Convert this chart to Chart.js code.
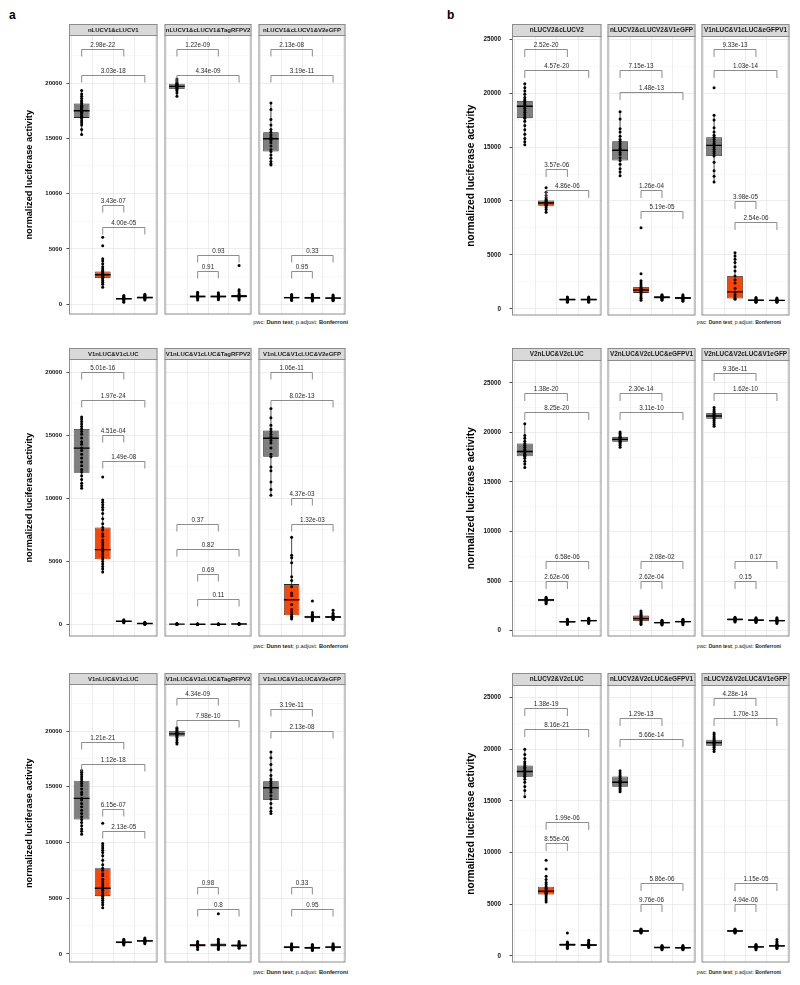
<!DOCTYPE html>
<html><head><meta charset="utf-8">
<script src="https://cdn.jsdelivr.net/npm/chart.js@4.4.1/dist/chart.umd.min.js"></script>
<style>
html,body{margin:0;padding:0;background:#fff;}
body{width:800px;height:985px;position:relative;overflow:hidden;font-family:"Liberation Sans",Arial,sans-serif;}
canvas{position:absolute;}
.lbl{position:absolute;font-weight:bold;font-size:12px;line-height:12px;color:#000;}
.cap{position:absolute;white-space:nowrap;color:#222;text-align:right;}
</style></head><body>
<div class="lbl" style="left:9px;top:9px;">a</div>
<div class="lbl" style="left:447px;top:9px;">b</div>
<script>
// ---------------- DATA ----------------
const groupIds = [1, 2, 3, 4];
const yTicksA = [0, 5000, 10000, 15000, 20000];
const yTicksB = [0, 5000, 10000, 15000, 20000, 25000];
const yTitle = 'normalized luciferase activity';
const captionParts = ['pwc: ', 'Dunn test', '; p.adjust: ', 'Bonferroni'];

// stats per box: [lower whisker, Q1, median, Q3, upper whisker]
// brackets: [group from, group to, y, p label]

// ----- a, row 1 -----
const a1Facets = ['nLUCV1&cLUCV1', 'nLUCV1&cLUCV1&TagRFPV2', 'nLUCV1&cLUCV1&V2eGFP'];
const a1YLim = [-926, 24343];
const a1Stats = [
  [[15350,16850,17500,18140,19330],[1530,2370,2670,2970,3660],[180,420,500,570,800],[380,530,610,680,900]],
  [[18800,19460,19700,19940,20360],[380,620,700,790,1080],[400,620,700,800,1050],[380,620,720,830,1150]],
  [[12590,13800,14960,15560,18200],[350,520,600,680,880],[300,500,590,680,900],[320,470,550,630,830]]
];
const a1Points = [
  [[19330,19000,18800,18600,18400,18300,18150,18000,17900,17800,17700,17600,17550,17450,17350,17250,17100,17000,16900,16800,16600,16400,16200,15800,15350],
   [6060,5280,4110,3900,3660,3400,3200,3050,2950,2850,2750,2700,2650,2600,2500,2450,2400,2300,2150,2000,1800,1530],
   [800,700,640,580,540,500,470,430,380,300,180],
   [900,820,740,690,650,610,580,540,480,380]],
  [[20360,20200,20050,19950,19880,19800,19750,19700,19650,19580,19500,19420,19300,19100,18800],
   [1080,950,860,790,740,700,660,620,540,380],
   [1050,920,840,780,720,690,650,600,520,400],
   [3510,1320,1150,950,850,780,720,670,610,500,380]],
  [[18200,17600,16700,16200,15800,15550,15300,15100,14950,14800,14600,14300,14000,13800,13500,13200,12900,12700,12590],
   [880,780,700,650,610,580,540,480,400,350],
   [900,800,700,650,600,560,520,450,380,300],
   [830,740,660,600,560,520,480,420,360,320]]
];
const a1Brackets = [
  [[1,3,23058,'2.98e-22'],[1,4,20746,'3.03e-18'],[2,3,8966,'3.43e-07'],[2,4,6987,'4.00e-05']],
  [[1,3,23058,'1.22e-09'],[1,4,20746,'4.34e-09'],[2,4,4496,'0.93'],[2,3,2968,'0.91']],
  [[1,3,23058,'2.13e-08'],[1,4,20746,'3.19e-11'],[2,4,4496,'0.33'],[2,3,2968,'0.95']]
];

// ----- a, row 2 -----
const a2Facets = ['V1nLUC&V1cLUC', 'V1nLUC&V1cLUC&TagRFPV2', 'V1nLUC&V1cLUC&V2eGFP'];
const a2YLim = [-946, 21057];
const a2Stats = [
  [[10800,12040,13990,15510,16460],[4160,5180,5940,7700,9880],[150,220,260,300,380],[20,60,80,110,180]],
  [[0,20,35,50,80],[0,15,30,45,70],[0,10,25,40,60],[10,30,45,60,90]],
  [[10250,13300,14770,15380,17140],[450,730,1970,3210,6920],[300,500,600,700,950],[400,520,600,680,1130]]
];
const a2Points = [
  [[16460,16300,16100,15900,15700,15500,15300,15100,14800,14500,14300,14000,13800,13500,13200,12900,12600,12300,12100,11800,11500,11200,11000,10800],
   [11700,9880,9700,9500,9300,9100,8800,8400,8000,7700,7500,7200,7000,6700,6500,6300,6100,5940,5800,5600,5400,5200,5000,4800,4600,4400,4160],
   [380,330,300,270,250,220,180,150],
   [180,140,110,90,70,50,30,20]],
  [[80,60,45,35,25,10,0],
   [70,50,35,25,15,5],
   [60,45,30,20,10,0],
   [90,70,50,40,30,10]],
  [[17140,16400,15800,15500,15300,15100,14900,14770,14600,14400,14000,13500,13300,12500,12200,11300,10700,10250],
   [6920,5500,5300,4900,3800,3500,3000,2500,2300,1600,1200,1000,800,650,550,450],
   [1870,950,820,720,650,600,550,480,400,300],
   [1130,900,760,680,630,590,550,500,450,400]]
];
const a2Brackets = [
  [[1,3,20008,'5.01e-16'],[1,4,17823,'1.97e-24'],[2,3,15063,'4.51e-04'],[2,4,12957,'1.49e-08']],
  [[1,3,7965,'0.37'],[1,4,5970,'0.82'],[2,3,4022,'0.69'],[2,4,2027,'0.11']],
  [[1,3,20008,'1.06e-11'],[1,4,17823,'8.02e-13'],[2,3,10016,'4.37e-03'],[2,4,7965,'1.32e-03']]
];

// ----- a, row 3 -----
const a3Facets = ['V1nLUC&V1cLUC', 'V1nLUC&V1cLUC&TagRFPV2', 'V1nLUC&V1cLUC&V2eGFP'];
const a3YLim = [-777, 24223];
const a3Stats = [
  [[10740,12050,13960,15500,16460],[4130,5180,5890,7680,9900],[800,960,1040,1110,1300],[900,1080,1160,1240,1420]],
  [[18840,19520,19750,20000,20300],[400,650,770,880,1100],[400,650,800,920,1300],[500,650,750,840,1100]],
  [[12590,13800,14910,15500,18130],[350,500,590,680,900],[300,460,550,640,850],[350,510,600,690,900]]
];
const a3Points = [
  [[16460,16300,16100,15900,15700,15500,15300,15100,14800,14500,14300,13960,13800,13500,13200,12900,12600,12300,12050,11800,11500,11200,11000,10740],
   [11720,9900,9700,9500,9300,9100,8800,8400,8000,7680,7500,7200,7000,6700,6500,6300,6100,5890,5700,5500,5300,5180,5000,4800,4600,4400,4130],
   [1300,1220,1150,1100,1060,1030,990,950,880,800],
   [1420,1340,1270,1220,1180,1150,1110,1060,990,900]],
  [[20300,20200,20100,20000,19900,19820,19750,19680,19600,19520,19400,19200,19000,18840],
   [1100,1000,920,860,800,760,720,660,560,400],
   [3600,1300,1150,1000,900,830,780,700,620,500,400],
   [1100,1000,900,830,780,740,700,650,580,500]],
  [[18130,17600,17000,16500,16000,15700,15500,15300,15100,14910,14700,14500,14200,13900,13500,13100,12800,12590],
   [900,800,720,660,610,570,530,470,400,350],
   [850,760,680,620,570,530,490,430,360,300],
   [900,800,720,660,620,580,540,480,410,350]]
];
const a3Brackets = [
  [[1,3,19018,'1.21e-21'],[1,4,17054,'1.12e-18'],[2,3,13036,'6.15e-07'],[2,4,11009,'2.13e-05']],
  [[1,3,23000,'4.34e-09'],[1,4,20982,'7.98e-10'],[2,3,5982,'0.98'],[2,4,3982,'0.8']],
  [[1,3,21991,'3.19e-11'],[1,4,19964,'2.13e-08'],[2,3,5982,'0.33'],[2,4,3982,'0.95']]
];

// ----- b, row 1 -----
const b1Facets = ['nLUCV2&cLUCV2', 'nLUCV2&cLUCV2&V1eGFP', 'V1nLUC&V1cLUC&eGFPV1'];
const b1YLim = [-618, 25300];
const b1Stats = [
  [[15220,17680,18780,19280,20880],[8950,9560,9810,10050,10800],[600,780,860,940,1100],[600,780,860,940,1100]],
  [[12330,13750,14700,15550,18270],[790,1480,1750,2030,2600],[800,960,1070,1160,1300],[700,900,1000,1090,1300]],
  [[11770,14170,15160,15900,17950],[900,950,1570,3040,5190],[600,720,790,860,1050],[600,710,780,850,1000]]
];
const b1Points = [
  [[20880,20500,20200,19900,19600,19400,19280,19100,18950,18780,18600,18400,18200,18000,17800,17680,17400,17000,16600,16200,15800,15500,15220],
   [11220,10800,10500,10300,10150,10050,9950,9870,9810,9750,9680,9600,9560,9400,9200,8950],
   [1100,1020,960,910,870,840,800,750,680,600],
   [1100,1030,970,920,880,850,810,760,690,600]],
  [[18270,17600,16700,16400,16000,15700,15550,15300,15100,14900,14700,14500,14300,14000,13750,13400,13000,12700,12330],
   [7530,3260,2600,2400,2200,2030,1900,1800,1750,1650,1550,1480,1300,1100,950,790],
   [1300,1230,1170,1120,1080,1040,1000,950,880,800],
   [1300,1200,1120,1060,1020,980,940,880,800,700]],
  [[20510,17950,17500,16800,16400,16100,15900,15700,15500,15300,15160,15000,14800,14600,14400,14170,13600,12800,12300,11770],
   [5190,4900,4600,4300,3900,3500,3040,2700,2400,1900,1570,1300,1100,950,900],
   [1050,960,890,840,800,770,730,690,640,600],
   [1000,930,870,820,790,760,720,680,640,600]]
];
const b1Brackets = [
  [[1,3,24077,'2.52e-20'],[1,4,22140,'4.57e-20'],[2,3,13007,'3.57e-06'],[2,4,11033,'4.86e-06']],
  [[1,3,22140,'7.15e-13'],[1,4,20074,'1.48e-13'],[2,3,11005,'1.26e-04'],[2,4,9041,'5.19e-05']],
  [[1,3,24077,'9.33e-13'],[1,4,22140,'1.03e-14'],[2,3,10018,'3.98e-05'],[2,4,8026,'2.54e-06']]
];

// ----- b, row 2 -----
const b2Facets = ['V2nLUC&V2cLUC', 'V2nLUC&V2cLUC&eGFPV1', 'V2nLUC&V2cLUC&V1eGFP'];
const b2YLim = [-602, 27310];
const b2Stats = [
  [[16470,17600,18070,18880,20880],[2700,2950,3080,3180,3350],[600,800,880,960,1150],[700,920,1000,1080,1250]],
  [[18500,19050,19300,19550,20050],[600,970,1200,1510,1980],[550,720,800,880,1050],[580,800,900,980,1150]],
  [[20610,21390,21650,21960,22520],[850,1020,1130,1220,1350],[800,960,1050,1130,1300],[700,900,1000,1080,1300]]
];
const b2Points = [
  [[20880,19700,19400,19100,18880,18700,18500,18300,18150,18070,17950,17800,17700,17600,17400,17100,16800,16470],
   [3350,3250,3180,3120,3080,3030,2980,2900,2800,2700],
   [1150,1060,990,940,890,860,820,770,700,600],
   [1250,1170,1110,1060,1020,990,950,900,820,700]],
  [[20050,19900,19750,19600,19500,19400,19300,19200,19100,19000,18850,18700,18500],
   [1980,1800,1650,1510,1400,1300,1200,1100,970,850,700,600],
   [1050,970,910,860,820,790,750,700,640,550],
   [1150,1070,1000,950,910,880,840,780,700,580]],
  [[22520,22300,22100,21960,21850,21750,21650,21550,21450,21390,21200,21000,20800,20610],
   [1350,1270,1210,1160,1130,1100,1060,1010,940,850],
   [1300,1220,1160,1110,1070,1040,1000,950,880,800],
   [1300,1200,1120,1060,1020,990,950,900,820,700]]
];
const b2Brackets = [
  [[1,3,24026,'1.38e-20'],[1,4,22018,'8.25e-20'],[2,4,7028,'6.58e-06'],[2,3,5050,'2.62e-06']],
  [[1,3,24026,'2.30e-14'],[1,4,22018,'3.11e-10'],[2,4,7028,'2.08e-02'],[2,3,5050,'2.62e-04']],
  [[1,3,26034,'9.36e-11'],[1,4,24026,'1.62e-10'],[2,4,7028,'0.17'],[2,3,5050,'0.15']]
];

// ----- b, row 3 -----
const b3Facets = ['nLUCV2&V2cLUC', 'nLUCV2&V2cLUC&eGFPV1', 'nLUCV2&V2cLUC&V1eGFP'];
const b3YLim = [-645, 26220];
const b3Stats = [
  [[15410,17330,17850,18420,19990],[5200,5930,6260,6700,7700],[700,950,1090,1200,1350],[800,960,1050,1150,1350]],
  [[15890,16370,16810,17360,17910],[2200,2330,2410,2480,2600],[600,730,800,870,1000],[600,710,780,850,1000]],
  [[19770,20350,20640,20930,21570],[2200,2330,2410,2480,2600],[600,780,870,950,1100],[700,870,960,1050,1400]]
];
const b3Points = [
  [[19990,19500,19100,18800,18600,18420,18250,18100,17950,17850,17700,17550,17400,17330,17100,16800,16400,16000,15410],
   [9250,8410,7700,7400,7100,6900,6700,6550,6400,6260,6150,6050,5930,5800,5600,5400,5200],
   [2220,1350,1270,1200,1140,1090,1040,980,900,800,700],
   [1500,1350,1250,1170,1110,1060,1020,970,900,800]],
  [[17910,17700,17500,17360,17200,17000,16900,16810,16700,16550,16370,16200,16050,15890],
   [2600,2540,2490,2450,2420,2390,2350,2300,2250,2200],
   [1000,930,880,840,810,780,750,700,650,600],
   [1000,920,860,820,790,760,730,690,640,600]],
  [[21570,21400,21200,21050,20930,20800,20700,20640,20550,20450,20350,20200,20000,19770],
   [2600,2540,2490,2450,2420,2390,2350,2300,2250,2200],
   [1100,1030,970,920,880,850,810,760,700,600],
   [1570,1400,1250,1120,1050,1000,960,910,850,780,700]]
];
const b3Brackets = [
  [[1,3,23979,'1.38e-19'],[1,4,21986,'8.16e-21'],[2,4,13001,'1.99e-06'],[2,3,10940,'8.55e-06']],
  [[1,3,23045,'1.29e-13'],[1,4,20994,'5.66e-14'],[2,4,7059,'5.86e-06'],[2,3,5037,'9.76e-06']],
  [[1,3,25000,'4.28e-14'],[1,4,23045,'1.70e-13'],[2,4,7059,'1.15e-05'],[2,3,5037,'4.94e-06']]
];

// ---------------- STYLE / LAYOUT ----------------
// whether the 2nd box of each facet is filled orange
const a1Orange = [true, true, true];
const a2Orange = [true, false, true];
const a3Orange = [true, true, true];
const b1Orange = [true, true, true];
const b2Orange = [false, true, true];
const b3Orange = [true, false, false];

const GREY = '#7F7F7F', ORANGE = '#FF4500';
const colFacetLeft = [[69, 163, 257], [512, 606, 700]];
const colFacetW = [90, 91];
const rowStripTop = [24, 348, 673];
const colStripH = [11, 12];
const colPanelBottom = [[316, 638, 964], [317, 638, 964]];
const colAxisLeft = [20, 461];
const colTitleCenter = [29.5, 471];
const colTickFont = [6, 6.3];
const colTickPad = [4.5, 8.5];
const colTitleFont = [9.3, 10.2];
const colStripFont = [6, 6.4];
const colCapFont = [5.7, 5.05];
const colCapRight = [348, 781];
const rowCapCenter = [323, 647, 973];

Chart.defaults.font.family = "'Liberation Sans', Arial, Helvetica, sans-serif";

const rows = [
  {col:0,row:0,facets:a1Facets,stats:a1Stats,points:a1Points,brackets:a1Brackets,ylim:a1YLim,ticks:yTicksA,orange:a1Orange},
  {col:0,row:1,facets:a2Facets,stats:a2Stats,points:a2Points,brackets:a2Brackets,ylim:a2YLim,ticks:yTicksA,orange:a2Orange},
  {col:0,row:2,facets:a3Facets,stats:a3Stats,points:a3Points,brackets:a3Brackets,ylim:a3YLim,ticks:yTicksA,orange:a3Orange},
  {col:1,row:0,facets:b1Facets,stats:b1Stats,points:b1Points,brackets:b1Brackets,ylim:b1YLim,ticks:yTicksB,orange:b1Orange},
  {col:1,row:1,facets:b2Facets,stats:b2Stats,points:b2Points,brackets:b2Brackets,ylim:b2YLim,ticks:yTicksB,orange:b2Orange},
  {col:1,row:2,facets:b3Facets,stats:b3Stats,points:b3Points,brackets:b3Brackets,ylim:b3YLim,ticks:yTicksB,orange:b3Orange}
];

function facetPlugin(name, stats, brackets, col) {
  return {
    id: 'facetExtras',
    afterDatasetDraw(chart, args) {
      if (args.index !== 0) return;
      const ctx = chart.ctx, ys = chart.scales.y, ca = chart.chartArea;
      const meta = chart.getDatasetMeta(0);
      ctx.save();
      ctx.beginPath(); ctx.rect(ca.left, ca.top, ca.width, ca.height); ctx.clip();
      meta.data.forEach((el, i) => {
        const s = stats[i];
        const x = el.x, half = el.width / 2;
        ctx.strokeStyle = '#1a1a1a';
        ctx.lineWidth = 0.8;
        ctx.beginPath();
        ctx.moveTo(x, ys.getPixelForValue(s[0])); ctx.lineTo(x, ys.getPixelForValue(s[1]));
        ctx.moveTo(x, ys.getPixelForValue(s[3])); ctx.lineTo(x, ys.getPixelForValue(s[4]));
        ctx.stroke();
        ctx.lineWidth = 1.4;
        ctx.strokeStyle = '#000';
        ctx.beginPath();
        const ym = ys.getPixelForValue(s[2]);
        ctx.moveTo(x - half, ym); ctx.lineTo(x + half, ym);
        ctx.stroke();
      });
      ctx.restore();
    },
    afterDatasetsDraw(chart) {
      const ctx = chart.ctx, xs = chart.scales.x, ys = chart.scales.y;
      ctx.save();
      ctx.lineWidth = 0.9;
      ctx.strokeStyle = '#808080';
      ctx.fillStyle = '#2a2a2a';
      ctx.font = "6.3px 'Liberation Sans', Arial, sans-serif";
      ctx.textAlign = 'center';
      ctx.textBaseline = 'alphabetic';
      const tip = col === 0 ? 7 : 7.5;
      brackets.forEach(b => {
        const x1 = xs.getPixelForValue(b[0]), x2 = xs.getPixelForValue(b[1]);
        const y = Math.round(ys.getPixelForValue(b[2])) + 0.5;
        ctx.beginPath();
        ctx.moveTo(x1, y + tip); ctx.lineTo(x1, y); ctx.lineTo(x2, y); ctx.lineTo(x2, y + tip);
        ctx.stroke();
        ctx.fillText(b[3], (x1 + x2) / 2, y - 2.5);
      });
      ctx.restore();
    },
    afterDraw(chart) {
      const ctx = chart.ctx, ca = chart.chartArea;
      const sh = colStripH[col];
      ctx.save();
      ctx.strokeStyle = '#8C8C8C';
      ctx.lineWidth = 1;
      ctx.strokeRect(ca.left + 0.5, ca.top + 0.5, ca.width - 1, ca.height - 1);
      ctx.fillStyle = '#D9D9D9';
      ctx.fillRect(ca.left, ca.top - sh, ca.width, sh);
      ctx.strokeRect(ca.left + 0.5, ca.top - sh + 0.5, ca.width - 1, sh);
      ctx.fillStyle = '#1a1a1a';
      ctx.font = "bold " + colStripFont[col] + "px 'Liberation Sans', Arial, sans-serif";
      ctx.textAlign = 'center';
      ctx.textBaseline = 'middle';
      ctx.fillText(name, ca.left + ca.width / 2, ca.top - sh / 2 + 0.5);
      ctx.restore();
    }
  };
}

function buildFacet(rc, fi) {
  const col = rc.col, r = rc.row, first = fi === 0;
  const fl = colFacetLeft[col][fi], fw = colFacetW[col];
  const top = rowStripTop[r], sh = colStripH[col], bottom = colPanelBottom[col][r];
  const left = first ? colAxisLeft[col] : fl;
  const width = fl + fw - left, height = bottom - top;
  const axisW = fl - left;
  const cv = document.createElement('canvas');
  cv.width = width; cv.height = height;
  cv.style.left = left + 'px'; cv.style.top = top + 'px';
  cv.style.width = width + 'px'; cv.style.height = height + 'px';
  document.body.appendChild(cv);

  const stats = rc.stats[fi], pts = rc.points[fi], brs = rc.brackets[fi];
  const fills = groupIds.map((g, i) => (i === 1 && rc.orange[fi]) ? ORANGE : GREY);
  const boxData = stats.map((s, i) => ({x: groupIds[i], y: [s[1], s[3]]}));
  const ptData = [];
  pts.forEach((arr, i) => arr.forEach(v => ptData.push({x: groupIds[i], y: v})));
  const titleLH = colTitleFont[col] * 1.2;

  new Chart(cv, {
    type: 'bar',
    data: {
      datasets: [
        {type: 'bar', data: boxData, backgroundColor: fills, borderColor: '#262626', borderWidth: 0.8,
         borderSkipped: false, barPercentage: 0.75, categoryPercentage: 1, order: 2, inflateAmount: 0},
        {type: 'scatter', data: ptData, pointRadius: 1.5, pointBackgroundColor: '#000', pointBorderWidth: 0,
         pointHoverRadius: 1.5, order: 1}
      ]
    },
    options: {
      responsive: false, animation: false, devicePixelRatio: 1,
      events: [],
      layout: {padding: {top: sh, left: 0, right: 0, bottom: 0}},
      plugins: {legend: {display: false}, tooltip: {enabled: false}, title: {display: false}},
      scales: {
        x: {
          type: 'linear', min: 0.4, max: 4.6, offset: false,
          afterBuildTicks: s => { s.ticks = groupIds.map(v => ({value: v})); },
          ticks: {display: false},
          grid: {color: '#EBEBEB', lineWidth: 0.9, drawTicks: false},
          border: {display: false},
          afterFit: s => { s.height = 0; s.paddingLeft = 0; s.paddingRight = 0; }
        },
        y: {
          type: 'linear', min: rc.ylim[0], max: rc.ylim[1],
          afterBuildTicks: s => {
            const t = [];
            for (let v = 0; v <= rc.ylim[1]; v += 2500) t.push({value: v});
            s.ticks = t;
          },
          ticks: {
            display: first, autoSkip: false, padding: colTickPad[col], color: '#111',
            font: {size: colTickFont[col], weight: 'bold'},
            callback: v => rc.ticks.includes(v) ? String(v) : ''
          },
          grid: {
            color: c => (c.tick && c.tick.value % 5000 === 0) ? '#EBEBEB' : '#F3F3F3',
            lineWidth: c => (c.tick && c.tick.value % 5000 === 0) ? 0.9 : 0.6,
            drawTicks: first, tickLength: 2.5,
            tickColor: c => (c.tick && rc.ticks.includes(c.tick.value)) ? '#333' : 'rgba(0,0,0,0)'
          },
          border: {display: false},
          title: {
            display: first, text: yTitle, color: '#000',
            font: {size: colTitleFont[col], weight: 'bold'},
            padding: {top: (colTitleCenter[col] - left) - titleLH / 2, bottom: 0}
          },
          afterFit: s => { s.width = axisW; s.paddingTop = 0; s.paddingBottom = 0; }
        }
      }
    },
    plugins: [facetPlugin(rc.facets[fi], stats, brs, col)]
  });
}

rows.forEach(rc => {
  for (let fi = 0; fi < 3; fi++) buildFacet(rc, fi);
  const fs = colCapFont[rc.col];
  const cap = document.createElement('div');
  cap.className = 'cap';
  cap.style.fontSize = fs + 'px';
  cap.style.lineHeight = fs + 'px';
  cap.style.right = (800 - colCapRight[rc.col]) + 'px';
  cap.style.top = (rowCapCenter[rc.row] - fs / 2) + 'px';
  cap.appendChild(document.createTextNode(captionParts[0]));
  const b1 = document.createElement('b'); b1.textContent = captionParts[1]; cap.appendChild(b1);
  cap.appendChild(document.createTextNode(captionParts[2]));
  const b2 = document.createElement('b'); b2.textContent = captionParts[3]; cap.appendChild(b2);
  document.body.appendChild(cap);
});
</script>
</body></html>
